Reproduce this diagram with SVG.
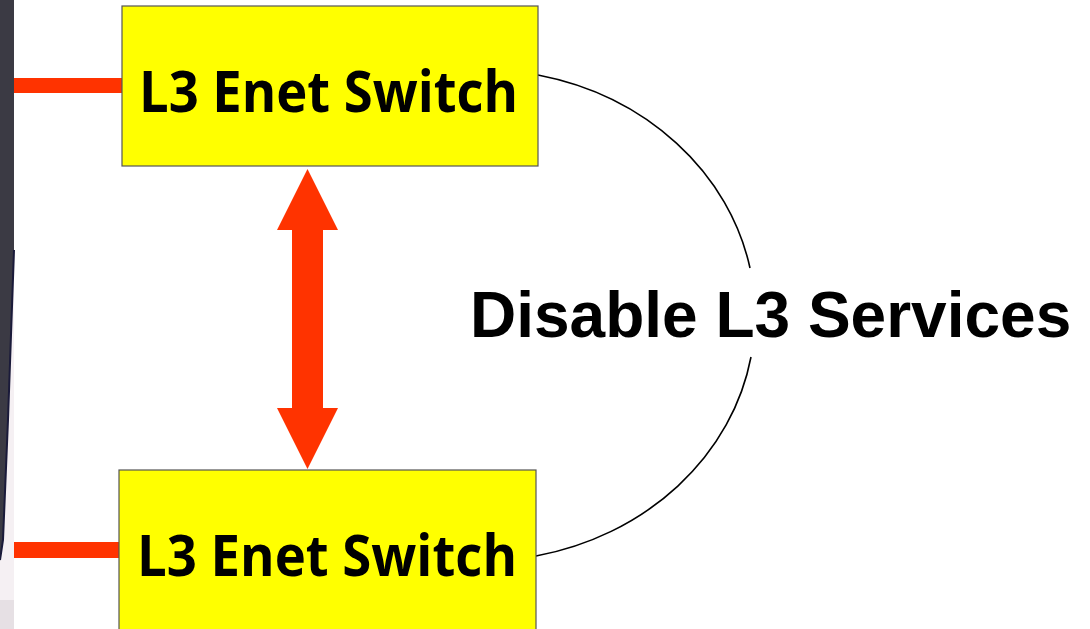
<svg xmlns="http://www.w3.org/2000/svg" width="1090" height="629" viewBox="0 0 1090 629">
<style>
.box{fill:#ffff00;stroke:#555555;stroke-width:1.2}
.lbl{font-family:"Open Sans","Noto Sans",sans-serif;font-weight:bold;font-size:57px;fill:#000}
.red{fill:#ff3300}
.curve{fill:none;stroke:#000;stroke-width:1.6}
.big{font-family:"Liberation Sans",Arial,sans-serif;font-weight:bold;font-size:64px;fill:#000}
</style>
<rect x="0" y="0" width="1090" height="629" fill="#ffffff"/>
<g id="edge-strip">
<polygon points="14,250 14,629 0,629 0,560 3,540 8,420" fill="#f5f0f3"/>
<polygon points="0,0 14,0 14,250 8,420 3,540 0,560" fill="#3b3a44"/>
<polyline points="14,250 8,420 3,540 0,560" fill="none" stroke="#1a1a3a" stroke-width="2"/>
<rect x="0" y="600" width="14" height="29" fill="#e6e0e4"/>
</g>
<g id="connectors">
<rect class="red" x="14" y="78" width="111" height="15"/>
<rect class="red" x="14" y="542" width="111" height="16"/>
<polygon class="red" points="307.5,169 338,230 323,230 323,408 338,408 307.5,469 277,408 292,408 292,230 277,230"/>
<path class="curve" d="M538,75 A275,245.6 0 0 1 750,268"/>
<path class="curve" d="M751,357 A275,245.6 0 0 1 536,556"/>
</g>
<g id="switch-top">
<rect class="box" x="122" y="6" width="416" height="160"/>
<text class="lbl" x="139" y="112" textLength="379" lengthAdjust="spacingAndGlyphs">L3 Enet Switch</text>
</g>
<g id="switch-bottom">
<rect class="box" x="119" y="470" width="417" height="170"/>
<text class="lbl" x="137" y="576" textLength="380" lengthAdjust="spacingAndGlyphs">L3 Enet Switch</text>
</g>
<g id="label">
<text class="big" x="470" y="337">Disable L3 Services</text>
</g>
</svg>
